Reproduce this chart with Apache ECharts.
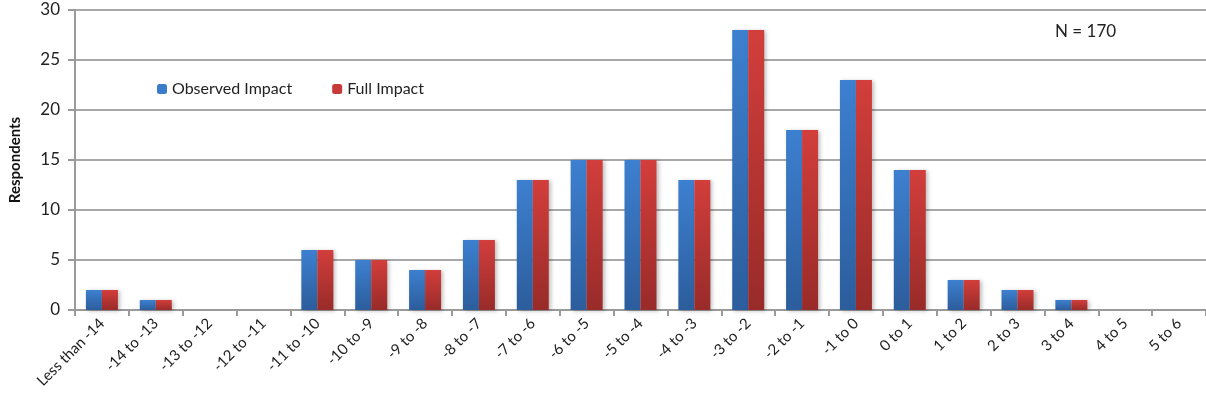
<!DOCTYPE html>
<html>
<head>
<meta charset="utf-8">
<script src="https://cdn.jsdelivr.net/npm/echarts@6/dist/echarts.min.js"></script>
<style>
  html, body { margin: 0; padding: 0; background: #fff; }
  #chart { width: 1206px; height: 412px; }
</style>
</head>
<body>
<div id="chart"></div>
<script>
const categories = ['Less than -14', '-14 to -13', '-13 to -12', '-12 to -11', '-11 to -10', '-10 to -9',
  '-9 to -8', '-8 to -7', '-7 to -6', '-6 to -5', '-5 to -4', '-4 to -3', '-3 to -2', '-2 to -1',
  '-1 to 0', '0 to 1', '1 to 2', '2 to 3', '3 to 4', '4 to 5', '5 to 6'];
const observed = [2, 1, 0, 0, 6, 5, 4, 7, 13, 15, 15, 13, 28, 18, 23, 14, 3, 2, 1, 0, 0];
const full = [2, 1, 0, 0, 6, 5, 4, 7, 13, 15, 15, 13, 28, 18, 23, 14, 3, 2, 1, 0, 0];
const yTicks = [0, 5, 10, 15, 20, 25, 30];

const font = 'Lato, "Open Sans", sans-serif';

function grad(top, bottom) {
  return new echarts.graphic.LinearGradient(0, 0, 0, 1, [
    { offset: 0, color: top },
    { offset: 1, color: bottom }
  ]);
}

const chart = echarts.init(document.getElementById('chart'));

chart.setOption({
  animation: false,
  grid: { left: 73, right: 0, top: 10, bottom: 102 },
  legend: {
    left: 152,
    top: 76,
    itemWidth: 10,
    itemHeight: 10,
    itemGap: 40,
    textStyle: { fontFamily: font, fontSize: 16, color: '#222' },
    data: [
      { name: 'Observed Impact', itemStyle: { color: '#3a7bcc' } },
      { name: 'Full Impact', itemStyle: { color: '#c83a38' } }
    ]
  },
  graphic: [{
    type: 'text',
    left: 1055,
    top: 23,
    style: { text: 'N = 170', fontFamily: font, fontSize: 17, fill: '#222' }
  }],
  xAxis: {
    type: 'category',
    data: categories,
    axisLine: { lineStyle: { color: '#9a9a9a', width: 2 } },
    axisTick: { show: true, length: 6, lineStyle: { color: '#9a9a9a', width: 2 } },
    axisLabel: {
      interval: 0,
      rotate: 45,
      margin: 11,
      fontFamily: font,
      fontSize: 15,
      color: '#222'
    }
  },
  yAxis: {
    type: 'value',
    min: 0,
    max: yTicks[yTicks.length - 1],
    interval: 5,
    name: 'Respondents',
    nameLocation: 'middle',
    nameGap: 52,
    nameTextStyle: { fontFamily: font, fontSize: 15, fontWeight: 'bold', color: '#111' },
    axisLine: { show: true, lineStyle: { color: '#9a9a9a', width: 2 } },
    axisTick: { show: true, length: 7, lineStyle: { color: '#9a9a9a', width: 2 } },
    axisLabel: { fontFamily: font, fontSize: 17, color: '#222', margin: 15 },
    splitLine: { lineStyle: { color: '#a8a8a8', width: 2 } }
  },
  series: [
    {
      name: 'Observed Impact',
      type: 'bar',
      data: observed,
      barWidth: 16,
      barGap: '0%',
      itemStyle: {
        color: grad('#3d80d0', '#2c5d9c'),
        shadowColor: 'rgba(0,0,0,0.25)',
        shadowBlur: 4,
        shadowOffsetX: 2,
        shadowOffsetY: 1
      }
    },
    {
      name: 'Full Impact',
      type: 'bar',
      data: full,
      barWidth: 16,
      barGap: '0%',
      itemStyle: {
        color: grad('#d23e3b', '#982b29'),
        shadowColor: 'rgba(0,0,0,0.25)',
        shadowBlur: 4,
        shadowOffsetX: 2,
        shadowOffsetY: 1
      }
    }
  ]
});
</script>
</body>
</html>
